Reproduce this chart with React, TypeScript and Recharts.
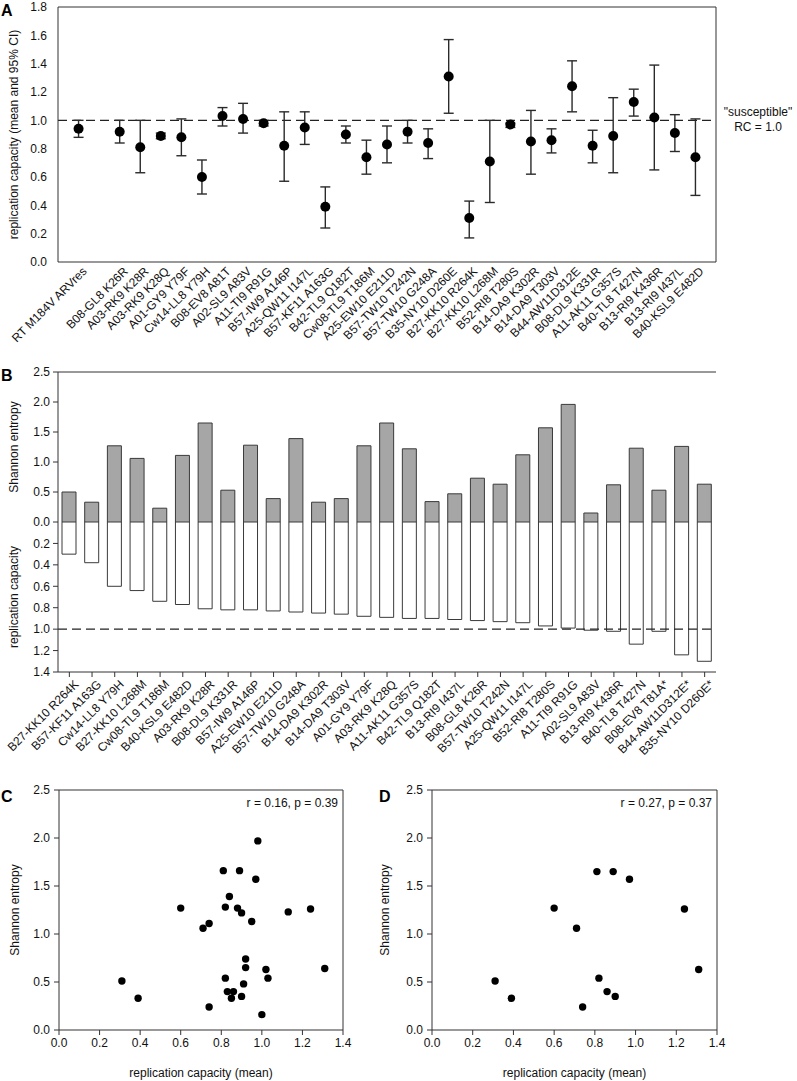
import React from 'react';
import { ScatterChart, Scatter, XAxis, YAxis, ErrorBar, ReferenceLine, BarChart, Bar } from 'recharts';

const FONT = '"Liberation Sans", Arial, Helvetica, sans-serif';
const INK = '#111';
const LINE = '#333';

// ---------- Panel A ----------
const aLabels = [
  'RT M184V ARVres', '', 'B08-GL8 K26R', 'A03-RK9 K28R', 'A03-RK9 K28Q', 'A01-GY9 Y79F',
  'Cw14-LL8 Y79H', 'B08-EV8 A81T', 'A02-SL9 A83V', 'A11-TI9 R91G', 'B57-IW9 A146P',
  'A25-QW11 I147L', 'B57-KF11 A163G', 'B42-TL9 Q182T', 'Cw08-TL9 T186M', 'A25-EW10 E211D',
  'B57-TW10 T242N', 'B57-TW10 G248A', 'B35-NY10 D260E', 'B27-KK10 R264K', 'B27-KK10 L268M',
  'B52-RI8 T280S', 'B14-DA9 K302R', 'B14-DA9 T303V', 'B44-AW11D312E', 'B08-DL9 K331R',
  'A11-AK11 G357S', 'B40-TL8 T427N', 'B13-RI9 K436R', 'B13-RI9 I437L', 'B40-KSL9 E482D',
];
const aMean = [0.94, null, 0.92, 0.81, 0.89, 0.88, 0.60, 1.03, 1.01, 0.98, 0.82, 0.95, 0.39, 0.90, 0.74, 0.83,
  0.92, 0.84, 1.31, 0.31, 0.71, 0.97, 0.85, 0.86, 1.24, 0.82, 0.89, 1.13, 1.02, 0.91, 0.74];
const aLow = [0.88, null, 0.84, 0.63, 0.87, 0.75, 0.48, 0.96, 0.91, 0.96, 0.57, 0.83, 0.24, 0.84, 0.62, 0.70,
  0.84, 0.73, 1.05, 0.17, 0.42, 0.95, 0.62, 0.77, 1.06, 0.70, 0.63, 1.03, 0.65, 0.78, 0.47];
const aHigh = [1.00, null, 1.00, 1.00, 0.91, 1.01, 0.72, 1.09, 1.12, 1.00, 1.06, 1.06, 0.53, 0.96, 0.86, 0.96,
  1.00, 0.94, 1.57, 0.43, 1.00, 0.98, 1.07, 0.94, 1.42, 0.93, 1.16, 1.22, 1.39, 1.04, 1.01];
const aYTicks = [0, 0.2, 0.4, 0.6, 0.8, 1.0, 1.2, 1.4, 1.6, 1.8];

// ---------- Panel B ----------
const bLabels = [
  'B27-KK10 R264K', 'B57-KF11 A163G', 'Cw14-LL8 Y79H', 'B27-KK10 L268M', 'Cw08-TL9 T186M',
  'B40-KSL9 E482D', 'A03-RK9 K28R', 'B08-DL9 K331R', 'B57-IW9 A146P', 'A25-EW10 E211D',
  'B57-TW10 G248A', 'B14-DA9 K302R', 'B14-DA9 T303V', 'A01-GY9 Y79F', 'A03-RK9 K28Q',
  'A11-AK11 G357S', 'B42-TL9 Q182T', 'B13-RI9 I437L', 'B08-GL8 K26R', 'B57-TW10 T242N',
  'A25-QW11 I147L', 'B52-RI8 T280S', 'A11-TI9 R91G', 'A02-SL9 A83V', 'B13-RI9 K436R',
  'B40-TL8 T427N', 'B08-EV8 T81A*', 'B44-AW11D312E*', 'B35-NY10 D260E*',
];
const bEntropy = [0.50, 0.33, 1.27, 1.06, 0.23, 1.11, 1.65, 0.53, 1.28, 0.39, 1.39, 0.33, 0.39, 1.27, 1.65,
  1.22, 0.34, 0.47, 0.73, 0.63, 1.12, 1.57, 1.96, 0.15, 0.62, 1.23, 0.53, 1.26, 0.63];
const bRC = [0.30, 0.38, 0.60, 0.64, 0.74, 0.77, 0.81, 0.82, 0.82, 0.83, 0.84, 0.85, 0.86, 0.88, 0.89,
  0.90, 0.90, 0.91, 0.92, 0.93, 0.94, 0.97, 0.99, 1.01, 1.02, 1.14, 1.02, 1.24, 1.30];
const bEntTicks = [0, 0.5, 1.0, 1.5, 2.0, 2.5];
const bRcTicks = [0.2, 0.4, 0.6, 0.8, 1.0, 1.2, 1.4];

// ---------- Panels C & D ----------
const cRC = [0.31, 0.39, 0.60, 0.71, 0.74, 0.74, 0.81, 0.82, 0.82, 0.83, 0.84, 0.85, 0.86, 0.88, 0.89,
  0.90, 0.90, 0.91, 0.92, 0.92, 0.95, 0.97, 0.98, 1.00, 1.02, 1.03, 1.13, 1.24, 1.31];
const cEnt = [0.51, 0.33, 1.27, 1.06, 1.11, 0.24, 1.66, 1.28, 0.54, 0.40, 1.39, 0.33, 0.40, 1.27, 1.66,
  1.22, 0.35, 0.48, 0.74, 0.65, 1.13, 1.57, 1.97, 0.16, 0.63, 0.54, 1.23, 1.26, 0.64];
const dRC = [0.31, 0.39, 0.60, 0.71, 0.74, 0.81, 0.82, 0.86, 0.89, 0.90, 0.97, 1.24, 1.31];
const dEnt = [0.51, 0.33, 1.27, 1.06, 0.24, 1.65, 0.54, 0.40, 1.65, 0.35, 1.57, 1.26, 0.63];
const scXTicks = [0, 0.2, 0.4, 0.6, 0.8, 1.0, 1.2, 1.4];
const scYTicks = [0, 0.5, 1.0, 1.5, 2.0, 2.5];
const cStat = 'r = 0.16, p = 0.39';
const dStat = 'r = 0.27, p = 0.37';

// ---------- derived data ----------
const aData = aLabels
  .map((label, i) => ({ pos: i, label, mean: aMean[i], ci: aMean[i] == null ? null : [aMean[i] - aLow[i], aHigh[i] - aMean[i]] }))
  .filter((d) => d.mean != null);
const aTicks = aData.map((d) => d.pos);
const bData = bLabels.map((name, i) => ({ name, ent: bEntropy[i], rc: bRC[i] }));
const cData = cRC.map((x, i) => ({ x, y: cEnt[i] }));
const dData = dRC.map((x, i) => ({ x, y: dEnt[i] }));

const fmt1 = (v: number) => v.toFixed(1);
const tickStyle = { fontSize: 12, fill: INK, fontFamily: FONT };

const RotTick = (labelOf: (v: any) => string, dx: number, dy: number) => (props: any) => {
  const { x, y, payload } = props;
  const ax = x + dx;
  const ay = y + dy;
  return (
    <text x={ax} y={ay} transform={`rotate(-45 ${ax} ${ay})`} textAnchor="end" dy="0.71em"
      fontSize={12} fill={INK} fontFamily={FONT}>
      {labelOf(payload.value)}
    </text>
  );
};

const Dot = (r: number) => (p: any) => <circle cx={p.cx} cy={p.cy} r={r} fill="#000" />;

const yLabel = (value: string, offset: number) => ({
  value, angle: -90, position: 'insideLeft' as const, offset,
  style: { textAnchor: 'middle', fontSize: 12, fill: INK, fontFamily: FONT },
});

const suscLabel = (props: any) => {
  const vb = props.viewBox || {};
  const x = vb.x + vb.width + 42;
  const y = vb.y;
  return (
    <text x={x} y={y} textAnchor="middle" fontSize={12} fill={INK} fontFamily={FONT}>
      <tspan x={x} dy={-4}>"susceptible"</tspan>
      <tspan x={x} dy={15}>RC = 1.0</tspan>
    </text>
  );
};

const statLabel = (text: string) => (props: any) => {
  const vb = props.viewBox || {};
  return (
    <text x={vb.x + vb.width - 5} y={vb.y + 17} textAnchor="end" fontSize={12} fill={INK} fontFamily={FONT}>
      {text}
    </text>
  );
};

const letter = (left: number, top: number): React.CSSProperties => ({
  position: 'absolute', left, top, fontFamily: FONT, fontWeight: 'bold', fontSize: 16, lineHeight: 1, color: '#000',
});

const abs = (left: number, top: number): React.CSSProperties => ({ position: 'absolute', left, top });

function ScatterPanel({ data, stat, width, marginLeft, axisW, marginRight }: any) {
  return (
    <ScatterChart width={width} height={301} margin={{ top: 10, right: marginRight, bottom: 0, left: marginLeft }}>
      <XAxis type="number" dataKey="x" domain={[0, 1.4]} ticks={scXTicks} tickFormatter={fmt1}
        tick={tickStyle} tickSize={5} tickMargin={3} height={51} interval={0}
        axisLine={{ stroke: LINE }} tickLine={{ stroke: LINE }}
        label={{ value: 'replication capacity (mean)', position: 'insideBottom', offset: 4, style: { fontSize: 12, fill: INK, fontFamily: FONT } }} />
      <YAxis type="number" dataKey="y" domain={[0, 2.5]} ticks={scYTicks} tickFormatter={fmt1}
        tick={tickStyle} tickSize={5} tickMargin={4} width={axisW} interval={0}
        axisLine={{ stroke: LINE }} tickLine={{ stroke: LINE }}
        label={yLabel('Shannon entropy', 9)} />
      <ReferenceLine y={2.5} stroke={LINE} label={statLabel(stat)} />
      <ReferenceLine x={1.4} stroke={LINE} />
      <Scatter data={data} shape={Dot(3.7)} isAnimationActive={false} />
    </ScatterChart>
  );
}

export default function App() {
  return (
    <div style={{ position: 'absolute', left: 0, top: 0, width: 797, height: 1081, background: '#fff', overflow: 'hidden' }}>
      {/* Panel A */}
      <div style={abs(0, 0)}>
        <ScatterChart width={797} height={372} margin={{ top: 7, right: 81, bottom: 5, left: 6 }}>
          <XAxis type="number" dataKey="pos" domain={[-1, 31]} ticks={aTicks} interval={0}
            tick={RotTick((v) => aLabels[v], 3, 2)} tickLine={false} tickSize={0} tickMargin={2} height={105}
            axisLine={{ stroke: LINE }} />
          <YAxis type="number" dataKey="mean" domain={[0, 1.8]} ticks={aYTicks} tickFormatter={fmt1}
            tick={tickStyle} tickLine={false} tickSize={0} tickMargin={11} width={52} interval={0}
            axisLine={{ stroke: LINE }}
            label={yLabel('replication capacity (mean and 95% CI)', 8)} />
          <ReferenceLine y={1.8} stroke={LINE} />
          <ReferenceLine x={31} stroke={LINE} />
          <ReferenceLine y={1} stroke="#222" strokeWidth={1.2} strokeDasharray="9 5" label={suscLabel} />
          <Scatter data={aData} shape={Dot(5)} isAnimationActive={false}>
            <ErrorBar dataKey="ci" direction="y" width={5} stroke="#2a2a2a" strokeWidth={1.4} />
          </Scatter>
        </ScatterChart>
      </div>

      {/* Panel B - entropy (top) */}
      <div style={abs(0, 362)}>
        <BarChart width={797} height={172} data={bData} margin={{ top: 10, right: 81, bottom: 12, left: 6 }} barCategoryGap="19%">
          <XAxis dataKey="name" tick={false} tickLine={false} height={0} axisLine={{ stroke: LINE }} />
          <YAxis domain={[0, 2.5]} ticks={bEntTicks} tickFormatter={fmt1} tick={tickStyle}
            tickSize={5} tickMargin={3} width={52} interval={0}
            axisLine={{ stroke: LINE }} tickLine={{ stroke: LINE }}
            label={yLabel('Shannon entropy', 8)} />
          <YAxis yAxisId="r" orientation="right" domain={[0, 2.5]} tick={false} tickLine={false} width={0}
            axisLine={{ stroke: LINE }} />
          <ReferenceLine y={2.5} stroke={LINE} />
          <Bar dataKey="ent" fill="#a6a6a6" stroke="#3a3a3a" strokeWidth={1} barSize={14} isAnimationActive={false} />
        </BarChart>
      </div>

      {/* Panel B - replication capacity (bottom) */}
      <div style={abs(0, 522)}>
        <BarChart width={797} height={250} data={bData} margin={{ top: 0, right: 81, bottom: 0, left: 6 }} barCategoryGap="19%">
          <XAxis dataKey="name" interval={0} height={100} tickSize={5} tickMargin={2}
            tick={RotTick((v) => v, 4, 0)} axisLine={{ stroke: LINE }} tickLine={{ stroke: LINE }} />
          <YAxis reversed domain={[0, 1.4]} ticks={bRcTicks} tickFormatter={fmt1} tick={tickStyle}
            tickSize={5} tickMargin={3} width={52} interval={0}
            axisLine={{ stroke: LINE }} tickLine={{ stroke: LINE }}
            label={yLabel('replication capacity', 8)} />
          <YAxis yAxisId="r" orientation="right" domain={[0, 1.4]} tick={false} tickLine={false} width={0}
            axisLine={{ stroke: LINE }} />
          <ReferenceLine y={1} stroke="#222" strokeWidth={1.2} strokeDasharray="9 5" />
          <Bar dataKey="rc" fill="#ffffff" stroke="#3a3a3a" strokeWidth={1} barSize={14} isAnimationActive={false} />
        </BarChart>
      </div>

      {/* Panel C */}
      <div style={abs(0, 780)}>
        <ScatterPanel data={cData} stat={cStat} width={390} marginLeft={6} axisW={53} marginRight={47} />
      </div>

      {/* Panel D */}
      <div style={abs(370, 780)}>
        <ScatterPanel data={dData} stat={dStat} width={427} marginLeft={6} axisW={56} marginRight={80} />
      </div>

      <div style={letter(1, 3)}>A</div>
      <div style={letter(1, 368)}>B</div>
      <div style={letter(1, 789)}>C</div>
      <div style={letter(379, 789)}>D</div>
    </div>
  );
}
